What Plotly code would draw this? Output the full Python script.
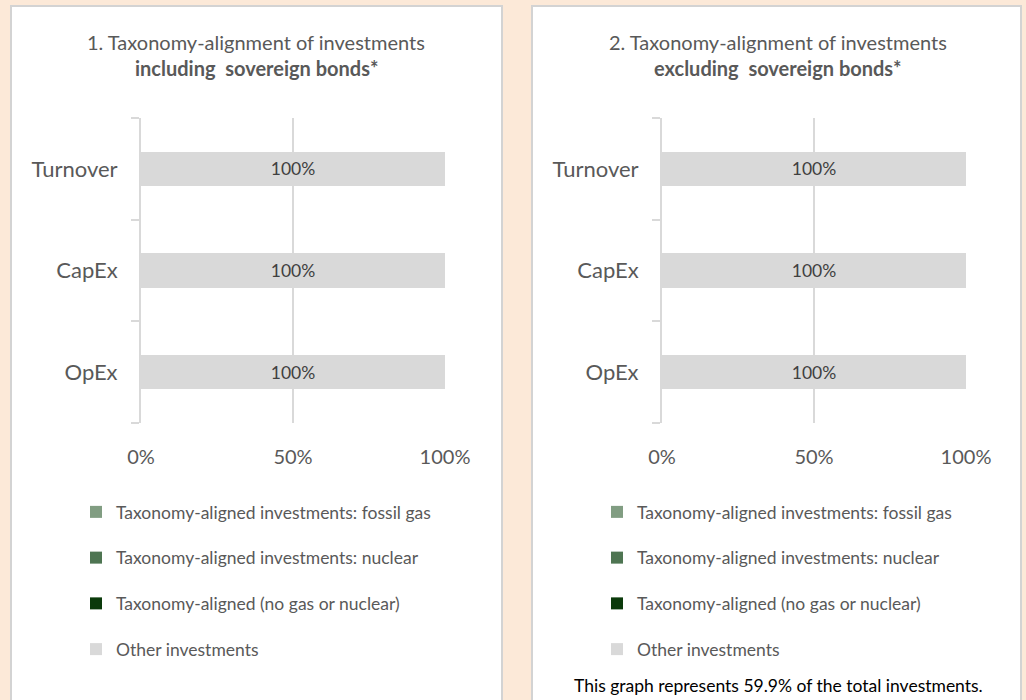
import plotly.graph_objects as go

# data
categories = ["Turnover", "CapEx", "OpEx"]
series_names = [
    "Taxonomy-aligned investments: fossil gas",
    "Taxonomy-aligned investments: nuclear",
    "Taxonomy-aligned (no gas or nuclear)",
    "Other investments",
]
series_colors = ["#819D82", "#4E7552", "#0B3A0B", "#D9D9D9"]

# chart 1: including sovereign bonds
incl_fossil_gas = [0.0, 0.0, 0.0]
incl_nuclear = [0.0, 0.0, 0.0]
incl_aligned = [0.0, 0.0, 0.0]
incl_other = [1.0, 1.0, 1.0]

# chart 2: excluding sovereign bonds
excl_fossil_gas = [0.0, 0.0, 0.0]
excl_nuclear = [0.0, 0.0, 0.0]
excl_aligned = [0.0, 0.0, 0.0]
excl_other = [1.0, 1.0, 1.0]

x_tick_vals = [0, 0.5, 1]
x_tick_text = ["0%", "50%", "100%"]

titles_line1 = [
    "1. Taxonomy-alignment of investments",
    "2. Taxonomy-alignment of investments",
]
titles_line2 = ["including  sovereign bonds*", "excluding  sovereign bonds*"]
footnote = "This graph represents 59.9% of the total investments."

W, H = 1026, 700
FONT = "Lato, 'Open Sans', sans-serif"
TEXT_GREY = "#595959"
LINE_GREY = "#D9D9D9"
PEACH = "#FCE9D8"


def px_x(v):
    return v / W


def px_y(v):
    return 1 - v / H


fig = go.Figure()

panels = [
    dict(data=[incl_fossil_gas, incl_nuclear, incl_aligned, incl_other],
         xaxis="x", yaxis="y", legend="legend"),
    dict(data=[excl_fossil_gas, excl_nuclear, excl_aligned, excl_other],
         xaxis="x2", yaxis="y2", legend="legend2"),
]

for panel in panels:
    for i, (name, color, vals) in enumerate(zip(series_names, series_colors, panel["data"])):
        fig.add_trace(
            go.Bar(
                y=categories,
                x=vals,
                orientation="h",
                name=name,
                marker=dict(color=color, line=dict(width=0)),
                text=[f"{v:.0%}" if v > 0 else "" for v in vals],
                textposition="inside",
                insidetextanchor="middle",
                textfont=dict(family=FONT, size=17.5, color="#404040"),
                xaxis=panel["xaxis"],
                yaxis=panel["yaxis"],
                legend=panel["legend"],
                legendgroup=f"{panel['legend']}_{i}",
                legendrank=i + 1,
                hoverinfo="skip",
            )
        )

axis_x_common = dict(
    range=[0, 1],
    tickvals=x_tick_vals,
    ticktext=x_tick_text,
    showgrid=True,
    gridcolor=LINE_GREY,
    gridwidth=2,
    zeroline=False,
    showline=False,
    ticks="",
    ticklabelstandoff=20,
    tickfont=dict(family=FONT, size=20, color=TEXT_GREY),
    automargin=False,
    fixedrange=True,
)
axis_y_common = dict(
    type="category",
    categoryorder="array",
    categoryarray=categories[::-1],
    showline=True,
    linecolor=LINE_GREY,
    linewidth=2,
    showgrid=False,
    ticks="outside",
    tickson="boundaries",
    ticklen=8,
    tickwidth=2,
    tickcolor=LINE_GREY,
    ticklabelstandoff=17,
    tickfont=dict(family=FONT, size=22, color=TEXT_GREY),
    automargin=False,
    fixedrange=True,
)

legend_common = dict(
    font=dict(family=FONT, size=17.5, color=TEXT_GREY),
    bgcolor="rgba(0,0,0,0)",
    traceorder="grouped",
    tracegroupgap=20,
    xanchor="left",
    yanchor="top",
    itemclick=False,
    itemdoubleclick=False,
)

fig.update_layout(
    width=W,
    height=H,
    autosize=False,
    margin=dict(l=0, r=0, t=0, b=0, pad=0, autoexpand=False),
    paper_bgcolor=PEACH,
    plot_bgcolor="rgba(0,0,0,0)",
    barmode="stack",
    bargap=0.665,
    showlegend=True,
    xaxis=dict(domain=[px_x(141), px_x(445)], anchor="y", **axis_x_common),
    yaxis=dict(domain=[px_y(423), px_y(118)], anchor="x", **axis_y_common),
    xaxis2=dict(domain=[px_x(662), px_x(966)], anchor="y2", **axis_x_common),
    yaxis2=dict(domain=[px_y(423), px_y(118)], anchor="x2", **axis_y_common),
    legend=dict(x=px_x(76), y=px_y(494), **legend_common),
    legend2=dict(x=px_x(597), y=px_y(494), **legend_common),
)

# white panels behind each chart
for x0, x1 in [(11, 502), (532, 1021)]:
    fig.add_shape(
        type="rect",
        xref="paper", yref="paper",
        x0=px_x(x0), x1=px_x(x1), y0=-0.02, y1=px_y(6),
        fillcolor="white",
        line=dict(color="#D3D3D3", width=2),
        layer="below",
    )

# titles
for cx, l1, l2 in zip([256, 778], titles_line1, titles_line2):
    fig.add_annotation(
        x=px_x(cx), y=px_y(42), xref="paper", yref="paper",
        text=l1, showarrow=False, xanchor="center", yanchor="middle",
        font=dict(family=FONT, size=20, color=TEXT_GREY),
    )
    fig.add_annotation(
        x=px_x(cx), y=px_y(68), xref="paper", yref="paper",
        text=f"<b>{l2}</b>", showarrow=False, xanchor="center", yanchor="middle",
        font=dict(family=FONT, size=20, color=TEXT_GREY),
    )

fig.add_annotation(
    x=px_x(778), y=px_y(685), xref="paper", yref="paper",
    text=footnote, showarrow=False, xanchor="center", yanchor="middle",
    font=dict(family=FONT, size=17.5, color="#000000"),
)

# drop the browser's default body margin so the figure sits in the window corner
fig.write_html(
    "out.html",
    config={"displayModeBar": False},
    post_script=f"document.body.style.margin='0'; document.body.style.background='{PEACH}';",
)
